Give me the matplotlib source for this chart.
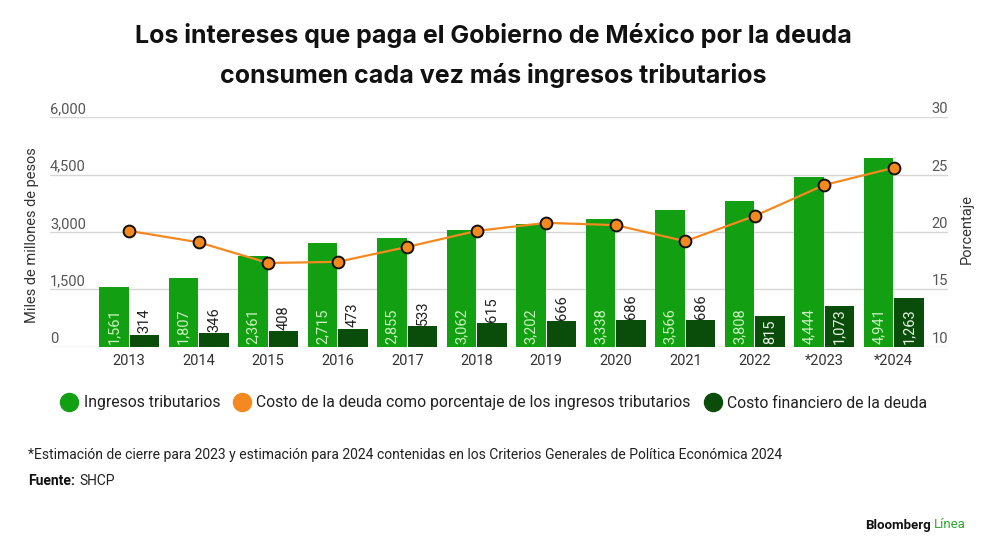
import matplotlib
matplotlib.use("Agg")
import matplotlib.pyplot as plt
from matplotlib.lines import Line2D
import numpy as np

plt.rcParams['font.family'] = ['Roboto', 'DejaVu Sans']

years = ['2013', '2014', '2015', '2016', '2017', '2018', '2019', '2020',
         '2021', '2022', '*2023', '*2024']
ingresos = [1561, 1807, 2361, 2715, 2855, 3062, 3202, 3338, 3566, 3808, 4444, 4941]
costo = [314, 346, 408, 473, 533, 615, 666, 686, 686, 815, 1073, 1263]
porcentaje = [20.1, 19.1, 17.3, 17.4, 18.7, 20.1, 20.8, 20.6, 19.2, 21.4, 24.1, 25.6]

c_light = '#12a012'
c_dark = '#0a4d0a'
c_orange = '#f4891f'
c_grid = '#d6d6d6'
c_tick = '#555555'

fig = plt.figure(figsize=(10, 5.58), dpi=100)
ax = fig.add_axes([0.05, 0.3787, 0.898, 0.411])
ax2 = ax.twinx()

x = np.arange(len(years))
w = 0.42
off = 0.22

ax.bar(x - off, ingresos, w, color=c_light, zorder=2)
ax.bar(x + off, costo, w, color=c_dark, zorder=2)

for xi, v in zip(x, ingresos):
    ax.text(xi - off, 70, f'{v:,}', rotation=90, ha='center', va='bottom',
            fontsize=10.5, color='#c9f2bd', zorder=3)
for xi, v in zip(x, costo):
    if v >= 800:
        ax.text(xi + off, 70, f'{v:,}', rotation=90, ha='center', va='bottom',
                fontsize=10.5, color='#e8f5e4', zorder=3)
    else:
        ax.text(xi + off, v + 40, f'{v:,}', rotation=90, ha='center', va='bottom',
                fontsize=10.5, color='#222222', zorder=3)

ax2.plot(x, porcentaje, color=c_orange, lw=1.6, marker='o', ms=8.5,
         mfc=c_orange, mec='#111111', mew=1.4, zorder=4)

ax.set_xlim(-1.14, 11.78)
ax.set_ylim(0, 6000)
ax2.set_ylim(10, 30)

yt = [0, 1500, 3000, 4500, 6000]
yt2 = [10, 15, 20, 25, 30]
ax.set_yticks(yt)
ax.set_yticklabels([])
ax2.set_yticks(yt2)
ax2.set_yticklabels([])
for v in yt:
    ax.axhline(v, color=c_grid, lw=1, zorder=1)
    ax.text(-1.14, v + 25, f'{v:,}', ha='left', va='bottom', fontsize=10.5, color=c_tick)
for v in yt2:
    ax2.text(11.78, v + 0.08, str(v), ha='right', va='bottom', fontsize=10.5, color=c_tick)

ax.set_xticks(x)
ax.set_xticklabels(years, fontsize=10.5, color='#333333')
ax.tick_params(axis='x', length=0, pad=5)
ax.tick_params(axis='y', length=0)
ax2.tick_params(axis='y', length=0)
for a in (ax, ax2):
    for s in a.spines.values():
        s.set_visible(False)

fig.text(0.032, 0.578, 'Miles de millones de pesos', rotation=90, ha='center',
         va='center', fontsize=10.5, color='#333333')
fig.text(0.967, 0.59, 'Porcentaje', rotation=90, ha='center', va='center',
         fontsize=10.5, color='#333333')

fig.text(0.493, 1 - 35 / 558, 'Los intereses que paga el Gobierno de México por la deuda',
         ha='center', va='center', fontsize=18, fontweight='bold', color='#111111',
         family=['Inter', 'DejaVu Sans'])
fig.text(0.493, 1 - 75 / 558, 'consumen cada vez más ingresos tributarios',
         ha='center', va='center', fontsize=18, fontweight='bold', color='#111111',
         family=['Inter', 'DejaVu Sans'])

handles = [
    Line2D([], [], ls='none', marker='o', ms=13, mfc=c_light, mec=c_light),
    Line2D([], [], ls='none', marker='o', ms=13, mfc=c_orange, mec=c_orange),
    Line2D([], [], ls='none', marker='o', ms=13, mfc=c_dark, mec=c_dark),
]
labels = ['Ingresos tributarios',
          'Costo de la deuda como porcentaje de los ingresos tributarios',
          'Costo financiero de la deuda']
fig.legend(handles, labels, loc='center', bbox_to_anchor=(0.495, 1 - 403 / 558),
           ncol=3, frameon=False, fontsize=11.3, handlelength=0.8, handletextpad=0.5,
           columnspacing=1.0, labelcolor='#222222')

fig.text(0.028, 1 - 455 / 558,
         '*Estimación de cierre para 2023 y estimación para 2024 contenidas en los Criterios Generales de Política Económica 2024',
         ha='left', va='center', fontsize=10, color='#222222')
fuente = fig.text(0.028, 1 - 481 / 558, 'Fuente:', ha='left', va='center', fontsize=10,
                  fontweight='bold', color='#111111')
fig.add_artist(plt.Annotation('SHCP', xy=(1, 0.5), xycoords=fuente, xytext=(3, 0),
                              textcoords='offset points', ha='left', va='center',
                              fontsize=10, color='#222222'))

bb = fig.text(0.865, 1 - 525 / 558, 'Bloomberg', ha='left', va='center', fontsize=9.5,
              fontweight='bold', color='#111111')
fig.add_artist(plt.Annotation('Línea', xy=(1, 0.5), xycoords=bb, xytext=(2.5, 0),
                              textcoords='offset points', ha='left', va='center',
                              fontsize=9.5, color='#2ea82e'))

fig.savefig('out.png', dpi=100, facecolor='white')
